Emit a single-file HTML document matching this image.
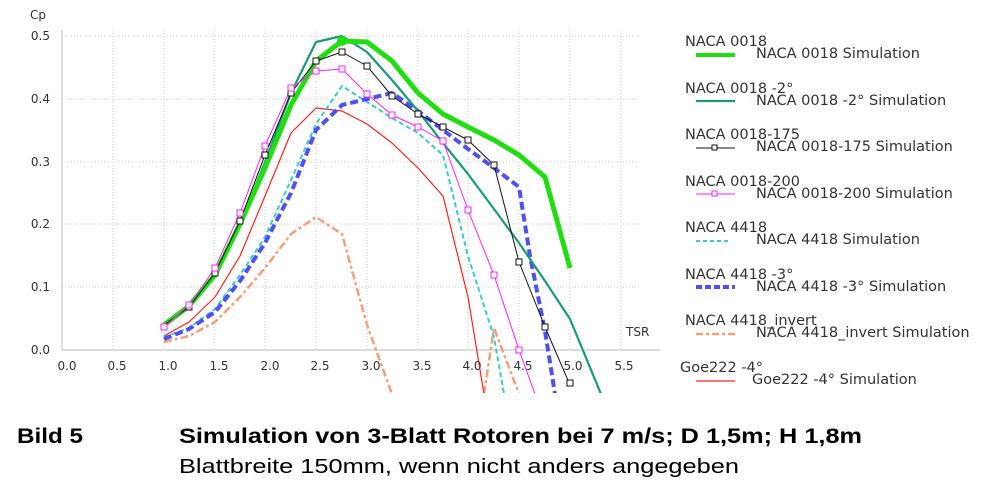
<!DOCTYPE html>
<html><head><meta charset="utf-8"><style>
body{margin:0;background:#fff;width:1000px;height:489px;overflow:hidden;font-family:"Liberation Sans",sans-serif}
svg{position:absolute;left:0;top:0}
</style></head><body>
<svg width="1000" height="489" viewBox="0 0 1000 489">
<defs><clipPath id="c"><rect x="62" y="20" width="580" height="373"/></clipPath></defs>
<g stroke="#ccc" stroke-width="1" stroke-dasharray="1,2">
<line x1="62" y1="36" x2="640" y2="36"/><line x1="62" y1="99" x2="640" y2="99"/><line x1="62" y1="162" x2="640" y2="162"/><line x1="62" y1="224" x2="640" y2="224"/><line x1="62" y1="287" x2="640" y2="287"/>
<line x1="113" y1="30" x2="113" y2="350"/><line x1="164" y1="30" x2="164" y2="350"/><line x1="214" y1="30" x2="214" y2="350"/><line x1="265" y1="30" x2="265" y2="350"/><line x1="316" y1="30" x2="316" y2="350"/><line x1="367" y1="30" x2="367" y2="350"/><line x1="418" y1="30" x2="418" y2="350"/><line x1="468" y1="30" x2="468" y2="350"/><line x1="519" y1="30" x2="519" y2="350"/><line x1="570" y1="30" x2="570" y2="350"/><line x1="621" y1="30" x2="621" y2="350"/>
</g>
<line x1="62" y1="30" x2="62" y2="350" stroke="#bbb"/>
<line x1="62" y1="350" x2="660" y2="350" stroke="#bbb"/>
<g font-size="12" fill="#333" font-family="DejaVu Sans,sans-serif">
<text x="30" y="19">Cp</text>
<g text-anchor="end"><text x="50" y="40">0.5</text><text x="50" y="103">0.4</text><text x="50" y="166">0.3</text><text x="50" y="228">0.2</text><text x="50" y="291">0.1</text><text x="50" y="354">0.0</text></g>
<g text-anchor="middle"><text x="67" y="370">0.0</text><text x="117" y="370">0.5</text><text x="168" y="370">1.0</text><text x="219" y="370">1.5</text><text x="270" y="370">2.0</text><text x="320" y="370">2.5</text><text x="371" y="370">3.0</text><text x="422" y="370">3.5</text><text x="472" y="370">4.0</text><text x="523" y="370">4.5</text><text x="573" y="370">5.0</text><text x="624" y="370">5.5</text></g>
<text x="626" y="336">TSR</text>
</g>
<g clip-path="url(#c)" fill="none" stroke-linejoin="round">
<polyline stroke="#f4a07a" stroke-width="2.5" stroke-dasharray="8,3,3,3" points="164,342 189,336 215,322 240,297 265,268 291,234 316,217 342,234 367,325 392,394"/>
<polyline stroke="#f4a07a" stroke-width="2.5" stroke-dasharray="8,3,3,3" points="484,394 494,328 519,394"/>
<polyline stroke="#ff2020" stroke-width="1.2" points="164,336 189,322 215,297 240,256 265,196 291,133 316,108 342,111 367,124 392,143 418,168 443,196 468,297 484,394"/>
<polyline stroke="#3cc8d0" stroke-width="2" stroke-dasharray="5,3" points="164,337 189,328 215,309 240,275 265,237 291,180 316,124 342,86 367,102 392,118 418,133 443,155 468,256 494,337 504,394"/>
<polyline stroke="#5050f0" stroke-width="4" stroke-dasharray="8,4" points="164,339 189,329 215,312 240,281 265,243 291,193 316,130 342,105 367,99 392,93 418,111 443,130 468,149 494,168 519,187 530,256 545,331 555,394"/>
<polyline stroke="#1a9a7a" stroke-width="2.2" points="164,325 189,306 215,275 240,224 265,162 291,93 316,42 342,36 367,52 392,80 418,111 443,143 468,174 494,209 519,243 545,281 570,319 601,394"/>
<polyline stroke="#22dd11" stroke-width="5" points="164,325 189,306 215,275 240,224 265,168 291,105 316,61 342,41 367,42 392,61 418,93 443,114 468,127 494,140 519,155 545,177 570,268"/>
<circle cx="342" cy="41" r="5" fill="#22dd11" stroke="none"/>
<polyline stroke="#111" stroke-width="1" points="164,325 189,307 215,273 240,221 265,155 291,93 316,61 342,52 367,66 392,96 418,114 443,127 468,140 494,165 519,262 545,327 570,385"/>
<polyline stroke="#ff22ff" stroke-width="1" points="164,327 189,305 215,268 240,213 265,146 291,88 316,71 342,69 367,94 392,115 418,127 443,141 468,210 494,275 519,350 535,394"/>
<g stroke="#111" stroke-width="1" fill="#fff">
<rect x="186" y="304" width="6" height="6"/><rect x="212" y="270" width="6" height="6"/><rect x="237" y="218" width="6" height="6"/><rect x="262" y="152" width="6" height="6"/><rect x="288" y="90" width="6" height="6"/><rect x="313" y="58" width="6" height="6"/><rect x="339" y="49" width="6" height="6"/><rect x="364" y="63" width="6" height="6"/><rect x="389" y="93" width="6" height="6"/><rect x="415" y="111" width="6" height="6"/><rect x="440" y="124" width="6" height="6"/><rect x="465" y="137" width="6" height="6"/><rect x="491" y="162" width="6" height="6"/><rect x="516" y="259" width="6" height="6"/><rect x="542" y="324" width="6" height="6"/><rect x="567" y="380" width="6" height="6"/>
</g>
<g stroke="#ff22ff" stroke-width="1" fill="#fff">
<rect x="161" y="324" width="6" height="6"/><rect x="186" y="302" width="6" height="6"/><rect x="212" y="265" width="6" height="6"/><rect x="237" y="210" width="6" height="6"/><rect x="262" y="143" width="6" height="6"/><rect x="288" y="85" width="6" height="6"/><rect x="313" y="68" width="6" height="6"/><rect x="339" y="66" width="6" height="6"/><rect x="364" y="91" width="6" height="6"/><rect x="389" y="112" width="6" height="6"/><rect x="415" y="124" width="6" height="6"/><rect x="440" y="138" width="6" height="6"/><rect x="465" y="207" width="6" height="6"/><rect x="491" y="272" width="6" height="6"/><rect x="516" y="347" width="6" height="6"/>
</g>
</g>
<g font-size="14.5" fill="#333" font-family="DejaVu Sans,sans-serif">
<text x="685" y="46">NACA 0018</text><text x="756" y="58">NACA 0018 Simulation</text>
<text x="685" y="93">NACA 0018 -2°</text><text x="756" y="105">NACA 0018 -2° Simulation</text>
<text x="685" y="139">NACA 0018-175</text><text x="756" y="151">NACA 0018-175 Simulation</text>
<text x="685" y="186">NACA 0018-200</text><text x="756" y="198">NACA 0018-200 Simulation</text>
<text x="685" y="232">NACA 4418</text><text x="756" y="244">NACA 4418 Simulation</text>
<text x="685" y="279">NACA 4418 -3°</text><text x="756" y="291">NACA 4418 -3° Simulation</text>
<text x="685" y="325">NACA 4418_invert</text><text x="756" y="337">NACA 4418_invert Simulation</text>
<text x="680" y="372">Goe222 -4°</text><text x="752" y="384">Goe222 -4° Simulation</text>
</g>
<g fill="none">
<line x1="696" y1="55" x2="735" y2="55" stroke="#22dd11" stroke-width="4"/>
<line x1="696" y1="101" x2="735" y2="101" stroke="#1a9a7a" stroke-width="2.2"/>
<line x1="696" y1="148" x2="735" y2="148" stroke="#111" stroke-width="1"/><rect x="712" y="145" width="5" height="5" stroke="#111" fill="#fff"/>
<line x1="696" y1="194" x2="735" y2="194" stroke="#ff22ff" stroke-width="1"/><rect x="712" y="191" width="5" height="5" stroke="#ff22ff" fill="#fff"/>
<line x1="696" y1="241" x2="731" y2="241" stroke="#3cc8d0" stroke-width="2" stroke-dasharray="4,3"/>
<line x1="696" y1="287" x2="735" y2="287" stroke="#5050f0" stroke-width="4" stroke-dasharray="6,3"/>
<line x1="696" y1="334" x2="735" y2="334" stroke="#f4a07a" stroke-width="2.5" stroke-dasharray="7,3,3,3"/>
<line x1="696" y1="381" x2="735" y2="381" stroke="#ff2020" stroke-width="1.2"/>
</g>
<g font-family="Liberation Sans,sans-serif" fill="#000">
<text x="17" y="443" font-size="21" font-weight="bold" textLength="66" lengthAdjust="spacingAndGlyphs">Bild 5</text>
<text x="179" y="443" font-size="21" font-weight="bold" textLength="683" lengthAdjust="spacingAndGlyphs">Simulation von 3-Blatt Rotoren bei 7 m/s; D 1,5m; H 1,8m</text>
<text x="179" y="473" font-size="20" textLength="560" lengthAdjust="spacingAndGlyphs">Blattbreite 150mm, wenn nicht anders angegeben</text>
</g>
</svg>
</body></html>
